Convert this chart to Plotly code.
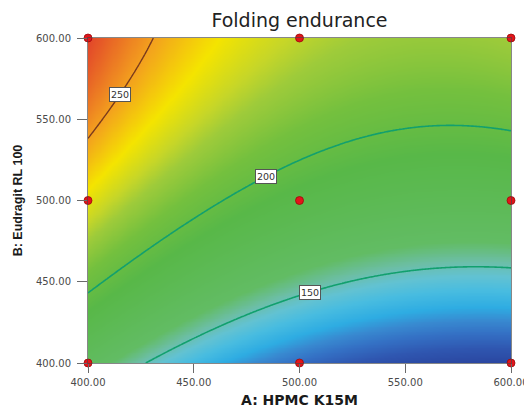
import numpy as np
import plotly.graph_objects as go

# 3x3 factorial design: factor levels
hpmc_levels = [400.0, 500.0, 600.0]      # A: HPMC K15M
eudragit_levels = [400.0, 500.0, 600.0]  # B: Eudragit RL 100

# Folding endurance per run; rows follow B level, columns follow A level
folding_endurance = [
    [167.5, 116.5, 101.5],   # B = 400
    [233.5, 187.5, 177.5],   # B = 500
    [266.5, 225.5, 220.5],   # B = 600
]

contour_levels = [150, 200, 250]
label_a_values = [505, 484, 415]   # A where each contour's label box sits
x_ticks = [400, 450, 500, 550, 600]
y_ticks = [400, 450, 500, 550, 600]

# Colour ramp from the lowest to the highest response
ramp = [
    [0.00, "#2a46a0"],
    [0.05, "#2f56b0"],
    [0.10, "#3470c4"],
    [0.14, "#3889d0"],
    [0.18, "#2eace2"],
    [0.23, "#48bce0"],
    [0.27, "#62c2d2"],
    [0.31, "#6cbea6"],
    [0.36, "#62bc64"],
    [0.55, "#58b848"],
    [0.65, "#74c03e"],
    [0.72, "#9ecb3a"],
    [0.76, "#c6d628"],
    [0.82, "#f4e400"],
    [0.90, "#f3a01e"],
    [1.00, "#e2442a"],
]

# ---- quadratic response-surface fit in coded units ----
def coded(v):
    return (np.asarray(v, dtype=float) - 500.0) / 100.0

def terms(a, b):
    return np.stack([np.ones_like(a), a, b, a * b, a * a, b * b], axis=-1)

A_run, B_run = np.meshgrid(hpmc_levels, eudragit_levels)
y_run = np.asarray(folding_endurance, dtype=float).ravel()
X_run = terms(coded(A_run).ravel(), coded(B_run).ravel())
coef, *_ = np.linalg.lstsq(X_run, y_run, rcond=None)

A_grid = np.linspace(400, 600, 201)
B_grid = np.linspace(400, 600, 201)
AA, BB = np.meshgrid(A_grid, B_grid)
Z = terms(coded(AA), coded(BB)) @ coef

def b_on_level(a_val, level):
    """B value where the fitted surface equals `level` at a given A."""
    a = coded(a_val)
    c0 = coef[0] + coef[1] * a + coef[4] * a * a - level
    c1 = coef[2] + coef[3] * a
    c2 = coef[5]
    roots = np.roots([c2, c1, c0])
    roots = roots[np.isreal(roots)].real
    roots = roots[(roots >= -1) & (roots <= 1)]
    return 500.0 + 100.0 * roots[0]

fig = go.Figure()

fig.add_trace(go.Heatmap(
    x=A_grid, y=B_grid, z=Z,
    colorscale=ramp, zmin=float(Z.min()), zmax=float(Z.max()),
    zsmooth="best", showscale=False, hoverinfo="skip",
))

# contour lines: lower levels in teal, top level in brown
low_levels = [lv for lv in contour_levels if lv < 250]
fig.add_trace(go.Contour(
    x=A_grid, y=B_grid, z=Z, showscale=False, hoverinfo="skip",
    contours=dict(coloring="none", start=min(low_levels), end=max(low_levels),
                  size=50, showlabels=False),
    line=dict(color="#12a06e", width=1.6),
))
fig.add_trace(go.Contour(
    x=A_grid, y=B_grid, z=Z, showscale=False, hoverinfo="skip",
    contours=dict(coloring="none", start=250, end=250, size=50,
                  showlabels=False),
    line=dict(color="#7a3a1c", width=1.4),
))

# design points
fig.add_trace(go.Scatter(
    x=A_run.ravel(), y=B_run.ravel(), mode="markers",
    marker=dict(color="#e3141a", size=8, line=dict(color="#9a0a0a", width=0.8)),
    cliponaxis=False, hoverinfo="skip", showlegend=False,
))

annotations = []
for lv, a_val in zip(contour_levels, label_a_values):
    annotations.append(dict(
        x=a_val, y=b_on_level(a_val, lv), xref="x", yref="y",
        text=str(lv), showarrow=False,
        font=dict(family="DejaVu Sans", size=9.5, color="#333333"),
        bgcolor="white", bordercolor="#555555", borderwidth=1, borderpad=1,
    ))

axis_common = dict(
    showgrid=False, zeroline=False, showline=True, mirror=True,
    linecolor="rgba(70,70,70,0.65)", linewidth=1,
    ticks="outside", tickcolor="#6a6a6a", tickwidth=1,
    ticklabeloverflow="allow", automargin=False,
    tickfont=dict(family="DejaVu Sans", size=10, color="#4a4a4a"),
)

fig.update_layout(
    width=524, height=408, autosize=False,
    margin=dict(l=88, r=13, t=38, b=45),
    paper_bgcolor="white", plot_bgcolor="white",
    showlegend=False,
    title=dict(text="Folding endurance", x=0.5, xref="paper", xanchor="center",
               y=1 - 20 / 408, yref="container", yanchor="middle",
               font=dict(family="DejaVu Sans", size=19, color="#222222")),
    xaxis=dict(
        axis_common, range=[400, 600], ticklen=9, ticklabelstandoff=1,
        tickvals=x_ticks, ticktext=[f"{v:.2f}" for v in x_ticks],
        title=dict(text="A: HPMC K15M", standoff=14,
                   font=dict(family="DejaVu Sans", size=14, color="#1a1a1a",
                             weight="bold")),
    ),
    yaxis=dict(
        axis_common, range=[400, 600], ticklen=10, ticklabelstandoff=4,
        tickvals=y_ticks, ticktext=[f"{v:.2f}" for v in y_ticks],
        title=dict(text="B: Eudragit RL 100", standoff=10,
                   font=dict(family="Liberation Sans", size=12.5, color="#1a1a1a",
                             weight="bold")),
    ),
    annotations=annotations,
)

fig.write_html("out.html")
